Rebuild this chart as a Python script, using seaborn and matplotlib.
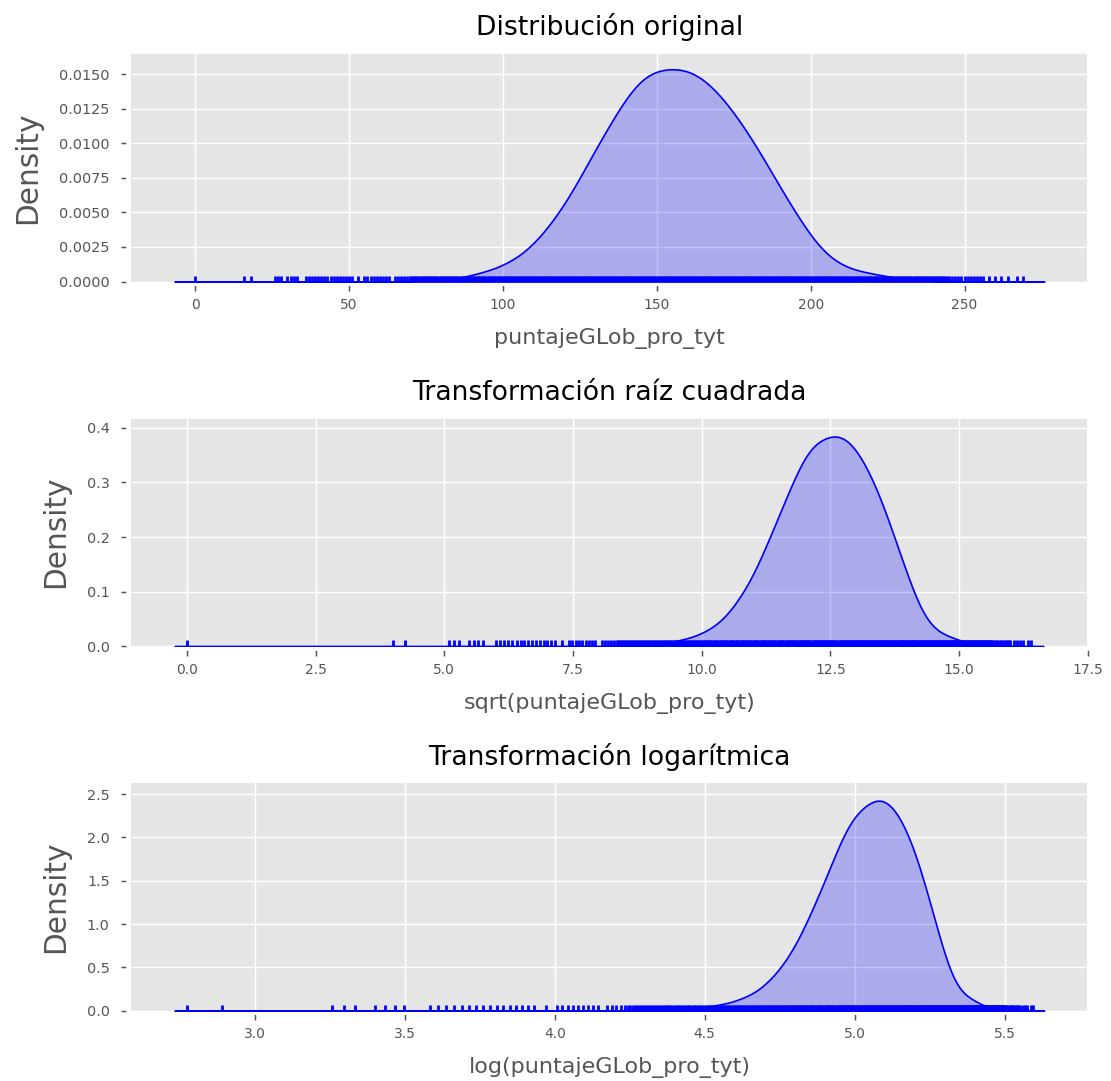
import numpy as np
import pandas as pd
import matplotlib
matplotlib.use("Agg")
import matplotlib.pyplot as plt
import seaborn as sns

# Puntaje global TyT: densidad relativa por tramos de 5 puntos (centro del tramo)
bin_centers = [72, 77, 82, 87, 92, 97, 102, 107, 112, 117, 122, 127, 132, 137,
               142, 147, 152, 157, 162, 167, 172, 177, 182, 187, 192, 197, 202,
               207, 212, 217, 222, 227, 232, 237, 242]
bin_density = [0.00007, 0.00012, 0.0002, 0.0003, 0.0006, 0.0009, 0.0014, 0.0021,
               0.0032, 0.0046, 0.0063, 0.0083, 0.0103, 0.0122, 0.0139, 0.0150,
               0.01535, 0.0154, 0.0151, 0.0143, 0.0131, 0.0116, 0.0099, 0.0080,
               0.0061, 0.0043, 0.0027, 0.0016, 0.0010, 0.0007, 0.0005, 0.0003,
               0.00016, 0.00008, 0.00004]

# Puntajes aislados en las colas de la distribución
low_tail_scores = [0, 16, 18, 26, 27, 28, 30, 31, 32, 33, 36, 37, 38, 39, 40, 41,
                   42, 43, 44, 45, 46, 47, 48, 49, 50, 51, 53, 55, 56, 57, 58, 59,
                   60, 61, 62, 63, 65, 66, 67, 68, 69]
high_tail_scores = [245, 246, 247, 248, 249, 250, 251, 252, 253, 254, 255, 256,
                    258, 260, 262, 264, 267, 269]
tail_weight = 0.00003

titles = ["Distribución original", "Transformación raíz cuadrada",
          "Transformación logarítmica"]
xlabels = ["puntajeGLob_pro_tyt", "sqrt(puntajeGLob_pro_tyt)",
           "log(puntajeGLob_pro_tyt)"]

# Cada tramo se reparte en puntajes cada medio punto dentro del tramo
per_bin = 10
grid_scores = np.concatenate([np.linspace(c - 2.25, c + 2.25, per_bin) for c in bin_centers])
grid_weights = np.repeat(bin_density, per_bin)
scores = np.concatenate([low_tail_scores, grid_scores, high_tail_scores]).astype(float)
weights = np.concatenate([np.full(len(low_tail_scores), tail_weight),
                          grid_weights,
                          np.full(len(high_tail_scores), tail_weight)])
df = pd.DataFrame({"puntajeGLob_pro_tyt": scores, "peso": weights})

positive = df[df["puntajeGLob_pro_tyt"] > 0]
series = [
    (df["puntajeGLob_pro_tyt"].to_numpy(), df["peso"].to_numpy()),
    (np.sqrt(df["puntajeGLob_pro_tyt"].to_numpy()), df["peso"].to_numpy()),
    (np.log(positive["puntajeGLob_pro_tyt"].to_numpy()), positive["peso"].to_numpy()),
]
# Rango de evaluación de cada curva de densidad
clips = [(-6.7, 275.9), (-0.24, 16.64), (2.732, 5.632)]
xlims = [(-20.8, 290), (-1.085, 17.5), (2.587, 5.777)]
ylims = [(0, 0.01652), (0, 0.4189), (0, 2.639)]

plt.style.use("ggplot")
plt.rcParams["font.family"] = ["DejaVu Sans"]
plt.rcParams["xtick.labelsize"] = 7.5
plt.rcParams["ytick.labelsize"] = 7.8

dpi = 133.33
fig, axes = plt.subplots(3, 1, figsize=(1111 / dpi, 1081 / dpi), dpi=dpi)
fig.subplots_adjust(left=0.118, right=0.979, top=0.951, bottom=0.065, hspace=0.595)

for ax, (vals, w), title, xlabel, cl, xl, yl in zip(axes, series, titles, xlabels,
                                                     clips, xlims, ylims):
    sns.kdeplot(x=vals, weights=w, fill=True, color="blue", linewidth=0.9,
                bw_method=0.13, cut=3, clip=cl, gridsize=1500, ax=ax)
    sns.rugplot(x=vals, color="blue", height=0.025, linewidth=1.5, ax=ax)
    ax.set_xlim(*xl)
    ax.set_ylim(*yl)
    for side in ("left", "bottom"):
        ax.spines[side].set_position(("outward", 2))
    ax.tick_params(axis="y", pad=6)
    ax.tick_params(axis="x", pad=3.5)
    ax.set_title(title, fontsize=14.4, pad=9.5)
    ax.set_xlabel(xlabel, fontsize=12, labelpad=8.5)
    ax.set_ylabel("Density", fontsize=16, labelpad=9)

fig.savefig("out.png", dpi=dpi)
